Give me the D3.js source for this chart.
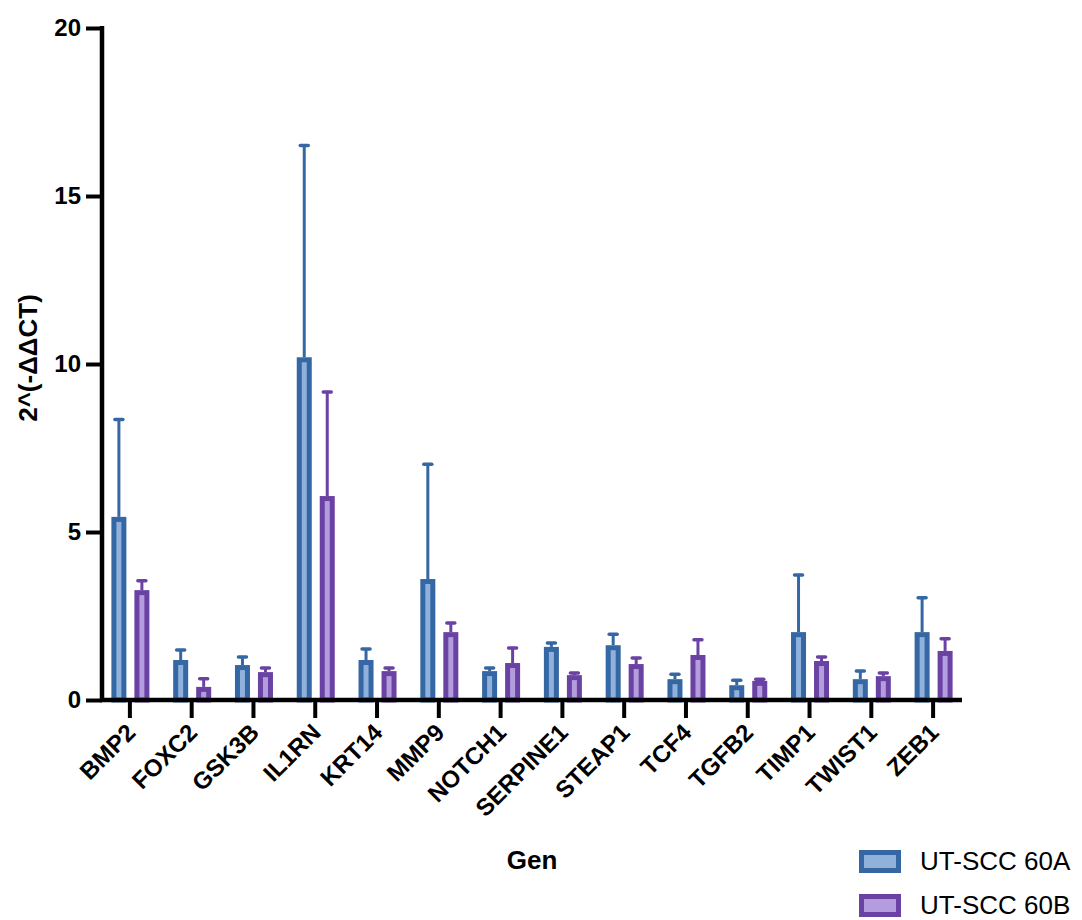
<!DOCTYPE html>
<html>
<head>
<meta charset="utf-8">
<script src="https://cdn.jsdelivr.net/npm/d3@7"></script>
<style>
  body { margin: 0; background: #fff; }
  text { font-family: "Liberation Sans", Arial, sans-serif; }
</style>
</head>
<body>
<div id="chart"></div>
<script>
var svgWidth = 1082;
var svgHeight = 920;

// data
var genes = ["BMP2", "FOXC2", "GSK3B", "IL1RN", "KRT14", "MMP9", "NOTCH1",
  "SERPINE1", "STEAP1", "TCF4", "TGFB2", "TIMP1", "TWIST1", "ZEB1"];
var seriesNames = ["UT-SCC 60A", "UT-SCC 60B"];
var meanA = [5.45, 1.19, 1.04, 10.2, 1.19, 3.6, 0.86, 1.58, 1.63, 0.62, 0.44, 2.02, 0.62, 2.02];
var errTopA = [8.35, 1.49, 1.28, 16.5, 1.52, 7.02, 0.95, 1.7, 1.96, 0.77, 0.59, 3.72, 0.86, 3.04];
var meanB = [3.27, 0.39, 0.83, 6.07, 0.86, 2.02, 1.1, 0.74, 1.07, 1.34, 0.57, 1.16, 0.71, 1.46];
var errTopB = [3.55, 0.63, 0.95, 9.17, 0.95, 2.29, 1.55, 0.8, 1.25, 1.79, 0.62, 1.28, 0.8, 1.82];
var yTicks = [0, 5, 10, 15, 20];

var strokeColors = ["#3467a3", "#6a42a3"];
var fillColors = ["#8fb1dc", "#b49ddc"];

var svg = d3.select("#chart")
  .append("svg")
  .attr("width", svgWidth)
  .attr("height", svgHeight);

var xScale = d3.scaleBand()
  .domain(genes)
  .range([99, 964]);

var yScale = d3.scaleLinear()
  .domain([0, 20])
  .range([700, 28]);

// bars + error bars per series
var series = [
  { mean: meanA, err: errTopA, offset: -11 },
  { mean: meanB, err: errTopB, offset: 12 }
];

var barW = 10;
series.forEach(function(s, i) {
  var g = svg.append("g");
  var rows = genes.map(function(gene, j) {
    return { gene: gene, v: s.mean[j], e: s.err[j] };
  });
  var cx = d => xScale(d.gene) + xScale.bandwidth() / 2 + s.offset;

  // error line (one sided, upwards)
  g.selectAll("line.err")
    .data(rows)
    .enter()
    .append("line")
    .attr("x1", cx)
    .attr("x2", cx)
    .attr("y1", d => yScale(d.v))
    .attr("y2", d => yScale(d.e))
    .attr("stroke", strokeColors[i])
    .attr("stroke-width", 3);

  g.selectAll("line.cap")
    .data(rows)
    .enter()
    .append("line")
    .attr("x1", d => cx(d) - 4)
    .attr("x2", d => cx(d) + 4)
    .attr("y1", d => yScale(d.e))
    .attr("y2", d => yScale(d.e))
    .attr("stroke", strokeColors[i])
    .attr("stroke-width", 3.5)
    .attr("stroke-linecap", "round");

  g.selectAll("rect")
    .data(rows)
    .enter()
    .append("rect")
    .attr("x", d => cx(d) - barW / 2)
    .attr("y", d => yScale(d.v) + 2.5)
    .attr("width", barW)
    .attr("height", d => Math.max(0, yScale(0) - yScale(d.v) - 2.5))
    .attr("fill", fillColors[i])
    .attr("stroke", strokeColors[i])
    .attr("stroke-width", 5);
});

// y axis
var leftAxis = d3.axisLeft(yScale)
  .tickValues(yTicks)
  .tickSize(16)
  .tickPadding(5);

var yAxis = svg.append("g")
  .attr("transform", "translate(102, 0)")
  .call(leftAxis);

yAxis.select(".domain")
  .attr("d", "M0,26V702")
  .attr("stroke", "#000")
  .attr("stroke-width", 4.5);
yAxis.selectAll(".tick line")
  .attr("stroke", "#000")
  .attr("stroke-width", 4);
yAxis.selectAll(".tick text")
  .attr("font-size", 24)
  .attr("font-weight", "bold")
  .attr("fill", "#000");

// x axis
var bottomAxis = d3.axisBottom(xScale)
  .tickSize(18)
  .tickSizeOuter(0);

var xAxis = svg.append("g")
  .attr("transform", "translate(0, 700)")
  .call(bottomAxis);

xAxis.select(".domain")
  .attr("d", "M100,0H962")
  .attr("stroke", "#000")
  .attr("stroke-width", 4.5);
xAxis.selectAll(".tick line")
  .attr("stroke", "#000")
  .attr("stroke-width", 4);
xAxis.selectAll(".tick text")
  .attr("font-size", 24)
  .attr("font-weight", "bold")
  .attr("fill", "#000")
  .attr("text-anchor", "end")
  .attr("dy", "0")
  .attr("y", 0)
  .attr("transform", "translate(7, 34) rotate(-45)");

// axis titles
svg.append("text")
  .attr("transform", "translate(37, 358) rotate(-90)")
  .attr("text-anchor", "middle")
  .attr("font-size", 26)
  .attr("font-weight", "bold")
  .text("2^(-ΔΔCT)");

svg.append("text")
  .attr("x", 532)
  .attr("y", 869)
  .attr("text-anchor", "middle")
  .attr("font-size", 26)
  .attr("font-weight", "bold")
  .text("Gen");

// legend
var legend = svg.append("g")
  .attr("transform", "translate(859, 850)");

seriesNames.forEach(function(name, i) {
  var row = legend.append("g")
    .attr("transform", `translate(0, ${i * 44})`);
  row.append("rect")
    .attr("x", 2.5)
    .attr("y", 2.5)
    .attr("width", 37)
    .attr("height", 18)
    .attr("fill", fillColors[i])
    .attr("stroke", strokeColors[i])
    .attr("stroke-width", 5);
  row.append("text")
    .attr("x", 61)
    .attr("y", 20)
    .attr("font-size", 26)
    .text(name);
});
</script>
</body>
</html>
